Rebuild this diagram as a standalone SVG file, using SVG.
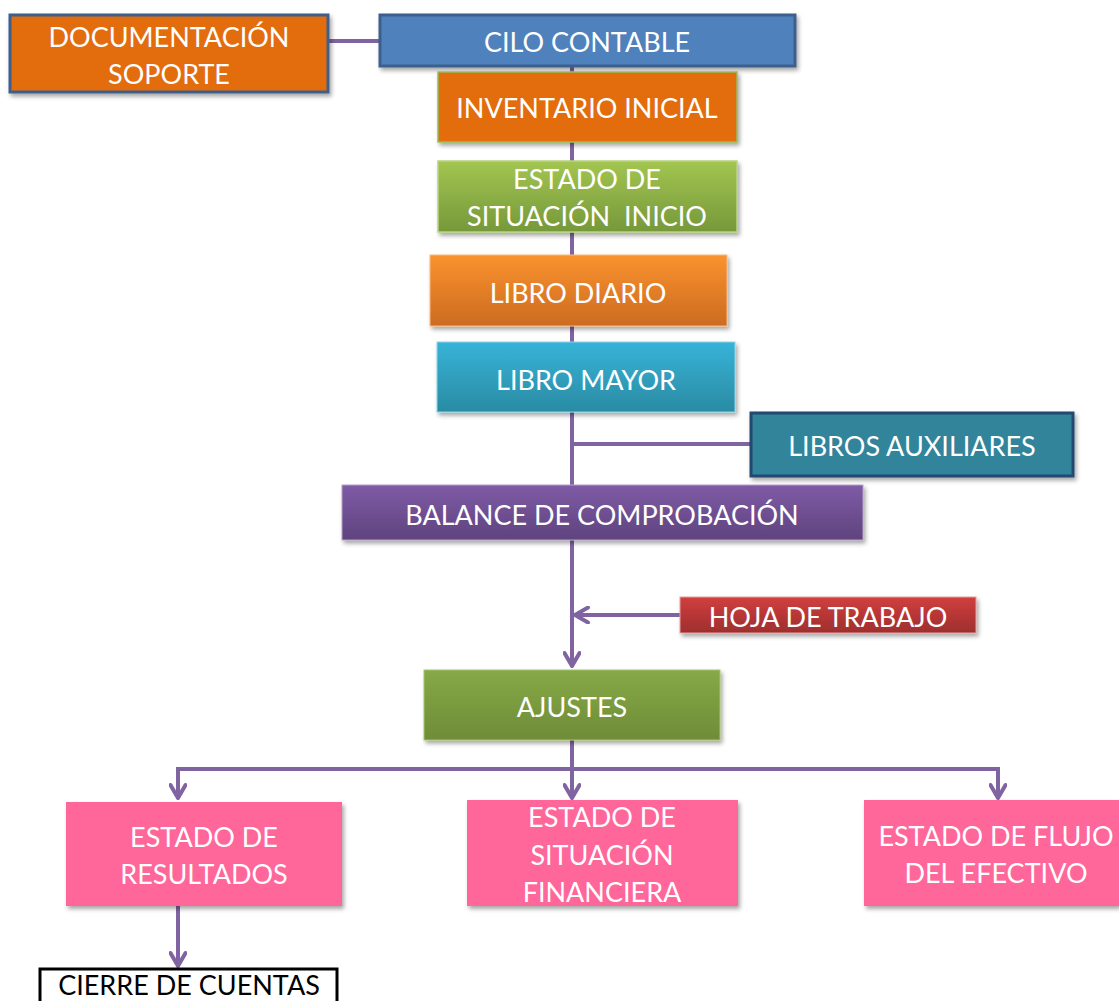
<svg xmlns="http://www.w3.org/2000/svg" width="1119" height="1001" viewBox="0 0 1119 1001">
<style>
.t{font-family:Lato,"Liberation Sans",sans-serif;font-size:27px;fill:#fff;text-anchor:middle;dominant-baseline:central}
.k{fill:#000}
.c{fill:none;stroke:#8064A2;stroke-width:4}
</style>
<defs>
<filter id="sh" x="-5%" y="-10%" width="115%" height="130%">
<feDropShadow dx="2" dy="3" stdDeviation="2" flood-color="#000" flood-opacity="0.35"/>
</filter>
<marker id="ah" markerUnits="userSpaceOnUse" viewBox="0 0 18 18" refX="16" refY="9" markerWidth="18" markerHeight="18" orient="auto">
<path d="M3,1.5 L16,9 L3,16.5" fill="none" stroke="#8064A2" stroke-width="4" stroke-linecap="round" stroke-linejoin="round"/>
</marker>
<linearGradient id="gGreen" x1="0" y1="0" x2="0" y2="1"><stop offset="0" stop-color="#A3C551"/><stop offset="1" stop-color="#76983A"/></linearGradient>
<linearGradient id="gOrange" x1="0" y1="0" x2="0" y2="1"><stop offset="0" stop-color="#FA922E"/><stop offset="1" stop-color="#CC6B21"/></linearGradient>
<linearGradient id="gCyan" x1="0" y1="0" x2="0" y2="1"><stop offset="0" stop-color="#37B3D8"/><stop offset="1" stop-color="#2A8BA3"/></linearGradient>
<linearGradient id="gPurple" x1="0" y1="0" x2="0" y2="1"><stop offset="0" stop-color="#7F5BA6"/><stop offset="1" stop-color="#5F437E"/></linearGradient>
<linearGradient id="gRed" x1="0" y1="0" x2="0" y2="1"><stop offset="0" stop-color="#D13F3F"/><stop offset="1" stop-color="#9E2E2E"/></linearGradient>
<linearGradient id="gOlive" x1="0" y1="0" x2="0" y2="1"><stop offset="0" stop-color="#86A947"/><stop offset="1" stop-color="#6E8C37"/></linearGradient>
</defs>
<rect width="1119" height="1001" fill="#fff"/>
<g id="connectors">
<line class="c" x1="328" y1="41" x2="380" y2="41"/>
<line class="c" x1="572" y1="66" x2="572" y2="666" marker-end="url(#ah)"/>
<line class="c" x1="572" y1="444" x2="750" y2="444"/>
<line class="c" x1="680" y1="615" x2="575" y2="615" marker-end="url(#ah)"/>
<line class="c" x1="572" y1="740" x2="572" y2="798" marker-end="url(#ah)"/>
<polyline class="c" points="178,798 178,769 998,769 998,798"/>
<line class="c" x1="178" y1="769" x2="178" y2="798" marker-end="url(#ah)"/>
<line class="c" x1="998" y1="769" x2="998" y2="798" marker-end="url(#ah)"/>
<line class="c" x1="178" y1="906" x2="178" y2="966" marker-end="url(#ah)"/>
</g>
<g id="documentacion">
<rect x="10" y="15" width="318" height="77" fill="#E36C0A" stroke="#3D5F8C" stroke-width="3" filter="url(#sh)"/>
<text class="t" x="169" y="36">DOCUMENTACIÓN</text>
<text class="t" x="169" y="73">SOPORTE</text>
</g>
<g id="ciclo">
<rect x="380" y="15" width="415" height="51" fill="#4F81BD" stroke="#3D5F8C" stroke-width="3" filter="url(#sh)"/>
<text class="t" x="587" y="41">CILO CONTABLE</text>
</g>
<g id="inventario">
<rect x="438" y="72" width="299" height="70" fill="#E36C0A" stroke="#9BBB59" stroke-width="1.5" filter="url(#sh)"/>
<text class="t" x="587" y="107">INVENTARIO INICIAL</text>
</g>
<g id="estado-inicio">
<rect x="438" y="161" width="299" height="71" fill="url(#gGreen)" stroke="#B8D480" stroke-width="1.5" filter="url(#sh)"/>
<text class="t" x="587" y="178">ESTADO DE</text>
<text class="t" x="587" y="215">SITUACIÓN&#160; INICIO</text>
</g>
<g id="libro-diario">
<rect x="430" y="255" width="297" height="71" fill="url(#gOrange)" stroke="#FAB97E" stroke-width="1" filter="url(#sh)"/>
<text class="t" x="578" y="292">LIBRO DIARIO</text>
</g>
<g id="libro-mayor">
<rect x="437" y="342" width="298" height="70" fill="url(#gCyan)" stroke="#8FD3E6" stroke-width="1" filter="url(#sh)"/>
<text class="t" x="586" y="379">LIBRO MAYOR</text>
</g>
<g id="libros-auxiliares">
<rect x="751" y="413" width="322" height="63" fill="#31849B" stroke="#24486F" stroke-width="3" filter="url(#sh)"/>
<text class="t" x="912" y="445">LIBROS AUXILIARES</text>
</g>
<g id="balance">
<rect x="342" y="485" width="521" height="55" fill="url(#gPurple)" stroke="#B3A2C7" stroke-width="1" filter="url(#sh)"/>
<text class="t" x="602" y="514">BALANCE DE COMPROBACIÓN</text>
</g>
<g id="hoja-trabajo">
<rect x="680" y="597" width="296" height="36" fill="url(#gRed)" stroke="#E6A09F" stroke-width="1" filter="url(#sh)"/>
<text class="t" x="828" y="616">HOJA DE TRABAJO</text>
</g>
<g id="ajustes">
<rect x="424" y="670" width="296" height="70" fill="url(#gOlive)" stroke="#A8C46E" stroke-width="1" filter="url(#sh)"/>
<text class="t" x="572" y="706">AJUSTES</text>
</g>
<g id="estado-resultados">
<rect x="66" y="802" width="276" height="104" fill="#FF6699" filter="url(#sh)"/>
<text class="t" x="204" y="836">ESTADO DE</text>
<text class="t" x="204" y="873">RESULTADOS</text>
</g>
<g id="estado-financiera">
<rect x="467" y="800" width="271" height="106" fill="#FF6699" filter="url(#sh)"/>
<text class="t" x="602" y="816">ESTADO DE</text>
<text class="t" x="602" y="854">SITUACIÓN</text>
<text class="t" x="602" y="891">FINANCIERA</text>
</g>
<g id="estado-flujo">
<rect x="864" y="800" width="255" height="106" fill="#FF6699" filter="url(#sh)"/>
<text class="t" x="996" y="835">ESTADO DE FLUJO</text>
<text class="t" x="996" y="872">DEL EFECTIVO</text>
</g>
<g id="cierre">
<rect x="40" y="969" width="297" height="40" fill="#fff" stroke="#000" stroke-width="3"/>
<text class="t k" x="189" y="984" font-size="26">CIERRE DE CUENTAS</text>
</g>
</svg>
